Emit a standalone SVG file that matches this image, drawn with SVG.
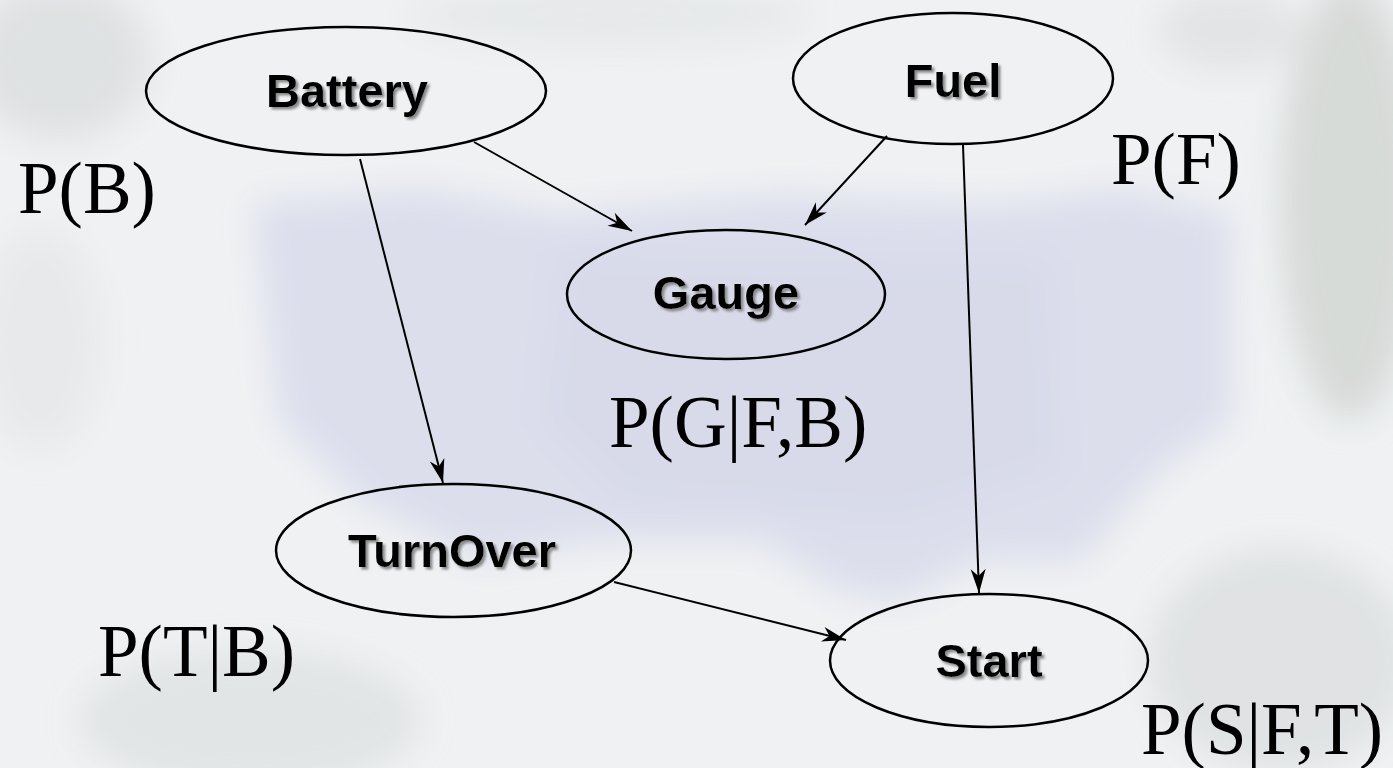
<svg xmlns="http://www.w3.org/2000/svg" width="1393" height="768" viewBox="0 0 1393 768">
  <style>
    .node ellipse { fill: none; stroke: #000; stroke-width: 2.5; }
    .node text { font-family: "Liberation Sans", Arial, sans-serif; font-weight: bold; font-size: 47px; fill: #000; text-anchor: middle; filter: url(#shadow); }
    .edge { stroke: #000; stroke-width: 2; fill: none; marker-end: url(#arrow); }
    .prob { font-family: "Liberation Serif", "Times New Roman", serif; font-size: 73px; fill: #000; }
  </style>
  <defs>
    <marker id="arrow" viewBox="-26 -9 28 18" refX="0" refY="0" markerWidth="28" markerHeight="18" orient="auto" markerUnits="userSpaceOnUse">
      <path d="M0,0 L-24,-7.5 L-17,0 L-24,7.5 Z" fill="#000"/>
    </marker>
    <filter id="shadow" x="-10%" y="-20%" width="130%" height="150%">
      <feDropShadow dx="2.5" dy="2.5" stdDeviation="0.8" flood-color="#8a8a8a" flood-opacity="1"/>
    </filter>
    <filter id="soft" x="-20%" y="-20%" width="140%" height="140%">
      <feGaussianBlur stdDeviation="16"/>
    </filter>
  </defs>

  <!-- faded backdrop -->
  <g id="backdrop">
    <rect width="1393" height="768" fill="#eff1f3"/>
    <g filter="url(#soft)">
      <ellipse cx="60" cy="60" rx="90" ry="80" fill="#d9dcdc" opacity="0.7"/>
      <ellipse cx="40" cy="340" rx="60" ry="110" fill="#e2e4e4" opacity="0.6"/>
      <ellipse cx="1350" cy="200" rx="70" ry="220" fill="#cfd3cf" opacity="0.75"/>
      <ellipse cx="1230" cy="30" rx="70" ry="40" fill="#dadcdc" opacity="0.6"/>
      <ellipse cx="250" cy="720" rx="170" ry="70" fill="#d6d9d9" opacity="0.5"/>
      <ellipse cx="1280" cy="660" rx="130" ry="110" fill="#d6d9d9" opacity="0.6"/>
      <ellipse cx="610" cy="15" rx="200" ry="30" fill="#e3e5e6" opacity="0.7"/>
      <path d="M255,205 L420,190 L560,215 L780,195 L1000,205 L1120,190 L1230,215 L1230,420 L1160,470 L1080,560 L980,560 L900,600 L840,590 L760,540 L600,540 L480,560 L360,500 L280,420 Z" fill="#dcdeec"/>
      <path d="M560,250 L1050,260 L1060,470 L900,520 L620,500 L540,420 Z" fill="#d8daea"/>
    </g>
  </g>

  <!-- connectors -->
  <g id="edges">
    <line class="edge" x1="474" y1="142" x2="632" y2="231"/>
    <line class="edge" x1="887" y1="136" x2="805" y2="225"/>
    <line class="edge" x1="360" y1="159" x2="443" y2="483"/>
    <line class="edge" x1="963" y1="145" x2="979" y2="593"/>
    <line class="edge" x1="614" y1="582" x2="846" y2="640"/>
  </g>

  <!-- nodes -->
  <g id="battery" class="node">
    <ellipse cx="346" cy="91" rx="200" ry="64"/>
    <text x="347" y="107">Battery</text>
  </g>
  <g id="fuel" class="node">
    <ellipse cx="953" cy="78.5" rx="160" ry="65.5"/>
    <text x="953" y="97">Fuel</text>
  </g>
  <g id="gauge" class="node">
    <ellipse cx="726" cy="294.5" rx="159" ry="64.5"/>
    <text x="726" y="309">Gauge</text>
  </g>
  <g id="turnover" class="node">
    <ellipse cx="453.5" cy="550.5" rx="177.5" ry="66.5"/>
    <text x="452" y="567">TurnOver</text>
  </g>
  <g id="start" class="node">
    <ellipse cx="989" cy="660.5" rx="159" ry="66.5"/>
    <text x="989" y="677">Start</text>
  </g>

  <!-- probability tables -->
  <g id="labels">
    <text class="prob" x="18" y="213">P(B)</text>
    <text class="prob" x="1111" y="184">P(F)</text>
    <text class="prob" x="609" y="447">P(G|F,B)</text>
    <text class="prob" x="98" y="676">P(T|B)</text>
    <text class="prob" x="1141" y="754">P(S|F,T)</text>
  </g>
</svg>
